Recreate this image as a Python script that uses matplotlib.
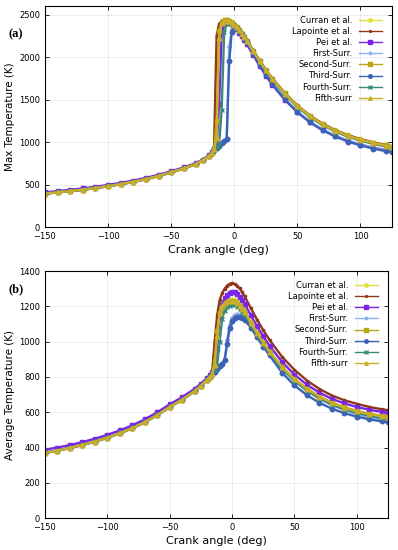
import matplotlib
matplotlib.use("Agg")
import matplotlib.pyplot as plt

# crank angle grid (deg)
angle = [-150, -140, -130, -120, -110, -100, -90, -80, -70, -60, -50, -40, -30, -25, -20, -18,
         -16, -14, -12, -10, -8, -6, -4, -2, 0, 2, 4, 6, 8, 10, 15, 20, 25, 30,
         40, 50, 60, 70, 80, 90, 100, 110, 120, 125]

names = ['Curran et al.', 'Lapointe et al.', 'Pei et al.', 'First-Surr.',
         'Second-Surr.', 'Third-Surr.', 'Fourth-Surr.', 'Fifth-surr']
colors = ['#e2e040', '#8e3818', '#7a26e6', '#8fb0f6',
          '#b8a614', '#3c62b6', '#3a8a7c', '#c9ae2c']
markers = ['o', '.', 's', '*', 's', 'o', 'x', '^']

# ---- (a) max temperature (K), compression part -150..-18
max_pre = [395, 409, 424, 441, 460, 482, 506, 533, 565, 602, 645, 690, 745, 785, 840, 870]
max_pre_pei = [410, 424, 439, 456, 475, 497, 521, 548, 580, 616, 658, 702, 756, 795, 850, 880]

# values from -16 deg onward
max_curran = [930, 1600, 2340, 2412, 2432, 2436, 2427, 2408, 2383, 2353, 2318, 2279, 2238, 2194,
              2074, 1958, 1848, 1748, 1574, 1428, 1308, 1213, 1138, 1078, 1032, 993, 963, 948]
max_lapointe = [950, 2250, 2390, 2425, 2440, 2442, 2432, 2412, 2388, 2358, 2322, 2283, 2242, 2198,
                2078, 1962, 1852, 1752, 1578, 1432, 1312, 1217, 1142, 1082, 1036, 997, 967, 952]
max_pei = [915, 960, 1450, 2290, 2385, 2408, 2404, 2388, 2362, 2328, 2288, 2244, 2198, 2152,
           2022, 1898, 1782, 1676, 1498, 1352, 1236, 1145, 1074, 1016, 971, 935, 906, 894]
max_first = [905, 938, 964, 992, 1018, 1045, 2120, 2330, 2365, 2350, 2312, 2270, 2225, 2180,
             2045, 1918, 1800, 1692, 1510, 1360, 1240, 1147, 1074, 1015, 969, 932, 902, 890]
max_second = [920, 1250, 2310, 2405, 2428, 2432, 2424, 2405, 2380, 2350, 2315, 2276, 2235, 2191,
              2071, 1955, 1846, 1746, 1572, 1426, 1306, 1211, 1136, 1076, 1030, 991, 961, 946]
max_third = [905, 932, 958, 985, 1010, 1035, 1950, 2300, 2352, 2340, 2305, 2262, 2217, 2172,
             2037, 1910, 1792, 1684, 1502, 1352, 1232, 1139, 1066, 1007, 961, 924, 894, 882]
max_fourth = [905, 945, 975, 1380, 2290, 2385, 2400, 2392, 2372, 2344, 2310, 2272, 2231, 2188,
              2066, 1949, 1838, 1737, 1561, 1414, 1294, 1199, 1124, 1064, 1018, 979, 949, 935]
max_fifth = [915, 1050, 2220, 2398, 2425, 2430, 2422, 2403, 2378, 2348, 2313, 2274, 2233, 2189,
             2069, 1953, 1844, 1744, 1570, 1424, 1304, 1209, 1134, 1074, 1028, 989, 959, 944]

# ---- (b) average temperature (K), compression part -150..-18
avg_pre = [370, 383, 398, 415, 434, 456, 481, 510, 544, 584, 630, 672, 720, 750, 785, 800]
avg_pre_pei = [388, 400, 414, 431, 450, 472, 497, 526, 560, 600, 645, 686, 733, 762, 796, 811]

avg_curran = [816, 900, 1080, 1170, 1205, 1222, 1232, 1237, 1238, 1235, 1226, 1212, 1195, 1175,
              1115, 1055, 1000, 948, 860, 790, 735, 690, 655, 628, 607, 591, 578, 573]
avg_lapointe = [830, 1000, 1150, 1235, 1275, 1300, 1318, 1328, 1332, 1328, 1318, 1302, 1282, 1258,
                1190, 1125, 1065, 1010, 915, 840, 780, 732, 695, 668, 648, 630, 617, 612]
avg_pei = [827, 850, 960, 1140, 1210, 1245, 1266, 1278, 1282, 1280, 1271, 1256, 1237, 1215,
           1150, 1088, 1030, 977, 886, 813, 756, 711, 676, 650, 630, 614, 602, 597]
avg_first = [816, 832, 847, 862, 878, 898, 1010, 1095, 1135, 1152, 1158, 1156, 1148, 1136,
             1092, 1040, 990, 942, 855, 783, 724, 678, 641, 612, 590, 572, 558, 552]
avg_second = [816, 890, 1060, 1160, 1195, 1213, 1223, 1228, 1228, 1224, 1215, 1201, 1184, 1164,
              1105, 1046, 992, 941, 855, 786, 732, 688, 654, 628, 607, 592, 580, 575]
avg_third = [816, 830, 845, 860, 876, 895, 985, 1075, 1115, 1133, 1140, 1140, 1134, 1123,
             1080, 1025, 972, 922, 825, 752, 697, 654, 620, 595, 575, 560, 548, 544]
avg_fourth = [816, 840, 870, 1000, 1130, 1175, 1195, 1204, 1207, 1206, 1199, 1187, 1171, 1152,
              1096, 1039, 985, 935, 848, 778, 722, 678, 643, 617, 596, 580, 568, 563]
avg_fifth = [816, 870, 1030, 1162, 1200, 1218, 1228, 1232, 1232, 1228, 1219, 1205, 1188, 1168,
             1108, 1049, 994, 943, 856, 787, 732, 688, 653, 626, 605, 589, 577, 572]

max_series = [max_pre + max_curran, max_pre + max_lapointe, max_pre_pei + max_pei,
              max_pre + max_first, max_pre + max_second, max_pre + max_third,
              max_pre + max_fourth, max_pre + max_fifth]
avg_series = [avg_pre + avg_curran, avg_pre + avg_lapointe, avg_pre_pei + avg_pei,
              avg_pre + avg_first, avg_pre + avg_second, avg_pre + avg_third,
              avg_pre + avg_fourth, avg_pre + avg_fifth]

fig = plt.figure(figsize=(3.98, 5.5), dpi=100)
ax1 = fig.add_axes([0.113, 0.587, 0.872, 0.402])
ax2 = fig.add_axes([0.113, 0.058, 0.862, 0.449])


def style(ax, series, ylim, yticks, ylabel, tag, tag_y):
    for vals, name, c, m in zip(series, names, colors, markers):
        ax.plot(angle, vals, color=c, marker=m, markersize=3.2, linewidth=1.7, label=name)
    ax.set_xlim(-150, 125)
    ax.set_ylim(*ylim)
    ax.set_xticks([-150, -100, -50, 0, 50, 100])
    ax.set_yticks(yticks)
    ax.grid(True, color='#e6e6e6', linewidth=0.5)
    ax.set_axisbelow(True)
    ax.tick_params(direction='in', top=True, right=True, labelsize=6, length=3, width=0.6)
    for s in ax.spines.values():
        s.set_linewidth(0.8)
    ax.set_xlabel('Crank angle (deg)', fontsize=8, labelpad=3)
    ax.set_ylabel(ylabel, fontsize=7.5, labelpad=3)
    leg = ax.legend(loc='upper right', frameon=False, markerfirst=False, fontsize=6,
                    handlelength=2.8, labelspacing=0.25, borderaxespad=0.8, markerscale=0.8)
    for h in leg.get_lines():
        h.set_linewidth(1.0)
    ax.text(-0.085, tag_y, tag, transform=ax.transAxes, fontsize=9, fontweight='bold',
            family='Liberation Serif', ha='center')


style(ax1, max_series, (0, 2600), [0, 500, 1000, 1500, 2000, 2500],
      'Max Temperature (K)', '(a)', 0.86)
style(ax2, avg_series, (0, 1400), [0, 200, 400, 600, 800, 1000, 1200, 1400],
      'Average Temperature (K)', '(b)', 0.915)

fig.savefig('out.png', dpi=100)
